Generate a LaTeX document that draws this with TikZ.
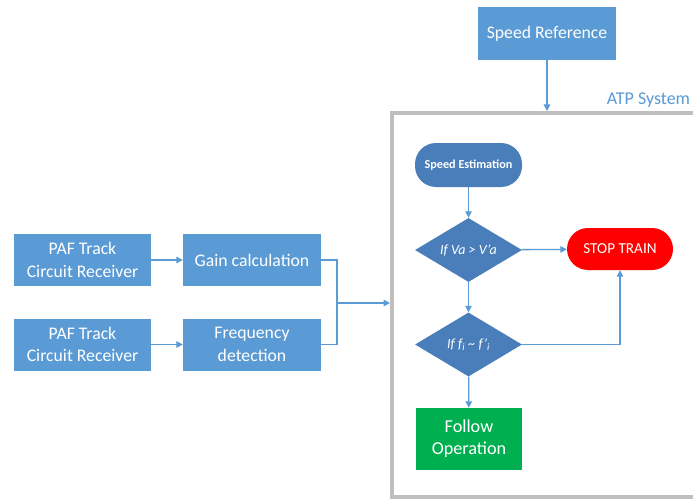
\documentclass[tikz,border=0pt]{standalone}
\usepackage{fontspec}
\setmainfont{Carlito}
\usetikzlibrary{shapes.geometric,arrows.meta,calc}
\definecolor{lblue}{HTML}{5B9BD5}
\definecolor{dblue}{HTML}{4A7EBB}
\definecolor{fgray}{HTML}{BFBFBF}
\definecolor{sred}{HTML}{FF0000}
\definecolor{sgreen}{HTML}{00B050}
\tikzset{
  box/.style={rectangle, fill=lblue, text=white, inner sep=0pt, minimum width=137pt, minimum height=52pt, align=center, font=\fontsize{17.7}{22.5}\selectfont},
  pill/.style={rectangle, rounded corners=21pt, inner sep=0pt, text=white, align=center},
  dec/.style={diamond, fill=dblue, text=white, inner sep=0pt, minimum width=107pt, minimum height=64pt, aspect=1.67, font=\fontsize{14}{16}\selectfont\itshape},
  conn/.style={draw=lblue, line width=1.3pt, -{Triangle[width=6.5pt,length=6.5pt]}},
  line/.style={draw=lblue, line width=1.3pt},
}
\begin{document}
\begin{tikzpicture}[x=1pt,y=-1pt]
\useasboundingbox (0,0) rectangle (693,500);
\clip (0,0) rectangle (693,500);
\fill[white] (0,0) rectangle (693,500);
% ATP frame
\node[draw=fgray, line width=4pt, rectangle, minimum width=318pt, minimum height=384pt, inner sep=0pt] (atp) at (551,305) {};
\node[text=lblue, font=\fontsize{18}{21}\selectfont] (atplabel) at (648.5,100) {ATP System};
% Speed reference
\node[box, minimum width=138pt, minimum height=53pt] (sref) at (547,33.5) {Speed Reference};
% left side
\node[box] (paf1) at (82.5,260) {PAF Track\\Circuit Receiver};
\node[box] (paf2) at (82.5,344.5) {PAF Track\\Circuit Receiver};
\node[box, minimum width=138pt] (gain) at (252,260) {Gain calculation};
\node[box, minimum width=138pt] (freq) at (252,344.5) {Frequency\\detection};
\coordinate (jn) at (337,303);
% flowchart
\node[pill, fill=dblue, minimum width=107pt, minimum height=44pt, font=\fontsize{12.2}{14}\selectfont\bfseries] (sest) at (468.5,165) {Speed Estimation};
\node[dec] (d1) at (468.5,250) {If Va > V’a};
\node[dec] (d2) at (468.5,344.5) {If f\textsubscript{i} \textasciitilde{} f’\textsubscript{i}};
\node[pill, fill=sred, minimum width=106pt, minimum height=42pt, font=\fontsize{15.2}{17}\selectfont] (stop) at (620,249) {STOP TRAIN};
\node[rectangle, fill=sgreen, text=white, inner sep=0pt, minimum width=106pt, minimum height=62pt, align=center, font=\fontsize{18.2}{22}\selectfont] (follow) at (469,439) {Follow\\Operation};
% connectors
\draw[conn] (sref.south) -- (sref.south |- atp.north);
\draw[conn] (paf1) -- (gain);
\draw[conn] (paf2) -- (freq);
\draw[line] (gain.east) -| (jn);
\draw[line] (freq.east) -| (jn);
\draw[conn] (jn) -- (jn -| atp.west);
\draw[conn] (sest) -- (d1);
\draw[conn] (d1) -- (stop);
\draw[conn] (d1) -- (d2);
\draw[conn] (d2.east) -| (stop.south);
\draw[conn] (d2) -- (follow);
\end{tikzpicture}
\end{document}
